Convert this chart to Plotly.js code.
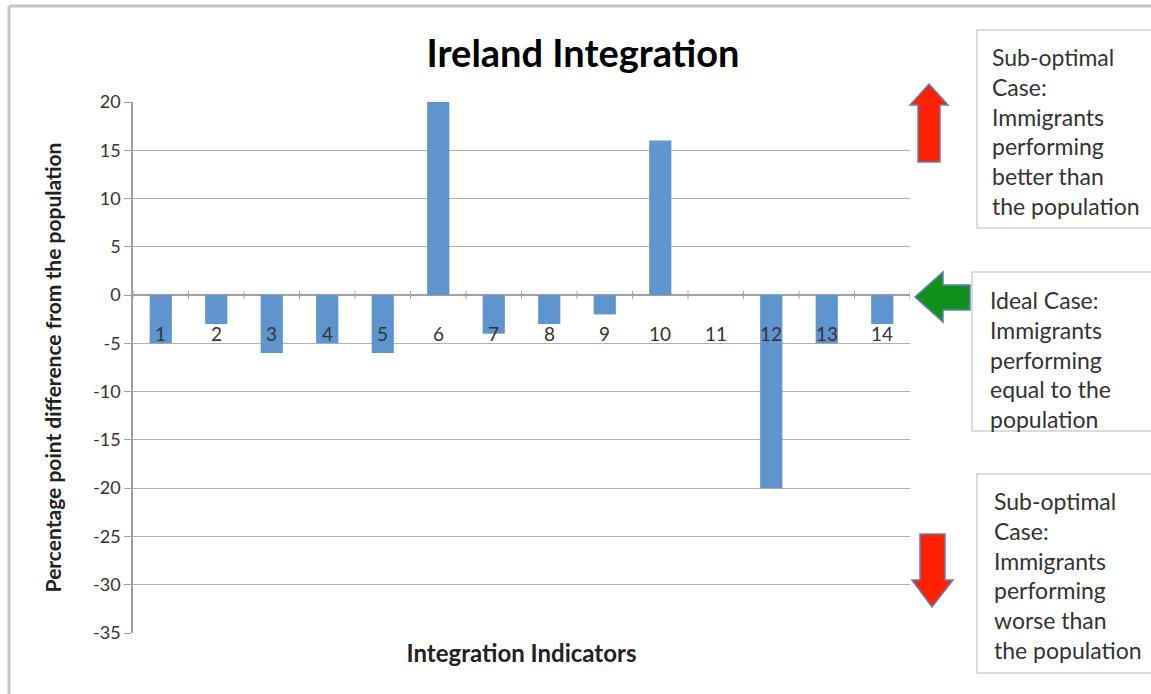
<!DOCTYPE html>
<html>
<head>
<meta charset="utf-8">
<script src="https://cdn.plot.ly/plotly-3.0.1.min.js"></script>
<style>html,body{margin:0;padding:0;background:#fff;}#chart{width:1151px;height:694px;}</style>
</head>
<body>
<div id="chart"></div>
<script>
const categories = ['1','2','3','4','5','6','7','8','9','10','11','12','13','14'];
const values = [-5, -3, -6, -5, -6, 20, -4, -3, -2, 16, 0, -20, -5, -3];
const yTicks = [20, 15, 10, 5, 0, -5, -10, -15, -20, -25, -30, -35];
const boxTexts = [
  ['Sub-optimal', 'Case:', 'Immigrants', 'performing', 'better than', 'the population'],
  ['Ideal Case:', 'Immigrants', 'performing', 'equal to the', 'population'],
  ['Sub-optimal', 'Case:', 'Immigrants', 'performing', 'worse than', 'the population']
];

const W = 1151, H = 694;
const M = {l: 133, r: 241, t: 102, b: 61};
const PW = W - M.l - M.r, PH = H - M.t - M.b;
const px = x => (x - M.l) / PW;
const py = y => (H - M.b - y) / PH;
const FONT = 'Lato, "Open Sans", sans-serif';

const shapes = [];
const annotations = [];

// category tick marks on the zero line
for (let i = 0; i <= categories.length; i++) {
  shapes.push({type: 'line', xref: 'x', yref: 'y', ysizemode: 'pixel', yanchor: 0,
    x0: i - 0.5, x1: i - 0.5, y0: -4, y1: 4, line: {color: '#a0a0a0', width: 1}});
}
// category labels next to the axis
categories.forEach((c, i) => {
  annotations.push({x: i, y: -3.95, xref: 'x', yref: 'y', text: c, showarrow: false,
    font: {family: FONT, size: 19, color: '#333'}, xanchor: 'center', yanchor: 'middle'});
});

// outer frame
shapes.push({type: 'line', xref: 'paper', yref: 'paper', x0: px(9), x1: px(9), y0: py(6), y1: py(700), line: {color: '#c4c4c4', width: 3}});
shapes.push({type: 'line', xref: 'paper', yref: 'paper', x0: px(9), x1: px(1160), y0: py(6), y1: py(6), line: {color: '#c4c4c4', width: 3}});

// text boxes
const boxes = [
  {x0: 977, y0: 30, x1: 1152, y1: 228, tx: 990, ty: 57},
  {x0: 972, y0: 272, x1: 1152, y1: 431, tx: 988, ty: 300},
  {x0: 977, y0: 474, x1: 1152, y1: 673, tx: 992, ty: 501}
];
const lineStep = 29.8;
boxes.forEach((b, k) => {
  shapes.push({type: 'rect', xref: 'paper', yref: 'paper', x0: px(b.x0), x1: px(b.x1), y0: py(b.y0), y1: py(b.y1),
    line: {color: '#d0d0d0', width: 1.5}, fillcolor: '#ffffff'});
  boxTexts[k].forEach((t, j) => {
    annotations.push({xref: 'paper', yref: 'paper', x: px(b.tx), y: py(b.ty + j * lineStep), text: t,
      showarrow: false, xanchor: 'left', yanchor: 'middle', align: 'left',
      font: {family: FONT, size: 23, color: '#333'}});
  });
});

// arrows
function pathFrom(pts) {
  return 'M ' + pts.map(p => px(p[0]) + ',' + py(p[1])).join(' L ') + ' Z';
}
const upArrow = [[929, 84], [948, 105], [940, 105], [940, 162], [918, 162], [918, 105], [910, 105]];
const leftArrow = [[915, 297], [943, 272], [943, 285], [970, 285], [970, 310], [943, 310], [943, 322]];
const downArrow = [[920, 534], [945, 534], [945, 580], [953, 580], [932, 607], [912, 580], [920, 580]];
shapes.push({type: 'path', xref: 'paper', yref: 'paper', path: pathFrom(upArrow), fillcolor: '#ff2000', line: {color: '#5b82b5', width: 1.5}});
shapes.push({type: 'path', xref: 'paper', yref: 'paper', path: pathFrom(leftArrow), fillcolor: '#12901c', line: {color: '#5b82b5', width: 1.5}});
shapes.push({type: 'path', xref: 'paper', yref: 'paper', path: pathFrom(downArrow), fillcolor: '#ff2000', line: {color: '#5b82b5', width: 1.5}});

const data = [{
  type: 'bar', x: categories.map((c, i) => i), y: values, width: 0.4,
  marker: {color: '#5f95cf', line: {width: 0}}, hoverinfo: 'x+y'
}];

const layout = {
  width: W, height: H,
  margin: M,
  paper_bgcolor: '#ffffff', plot_bgcolor: '#ffffff',
  showlegend: false,
  font: {family: FONT, color: '#333'},
  title: {text: '<b>Ireland Integration</b>', x: 583 / W, xanchor: 'center', xref: 'container',
    y: 1 - 54 / H, yanchor: 'middle', yref: 'container',
    font: {family: FONT, size: 38, color: '#000'}},
  xaxis: {range: [-0.5, categories.length - 0.5], showgrid: false, zeroline: false, showline: false,
    showticklabels: false, ticks: '', fixedrange: true,
    title: {text: '<b>Integration Indicators</b>', standoff: 12, font: {family: FONT, size: 24, color: '#222'}}},
  yaxis: {range: [-35, 20], tickvals: yTicks, ticktext: yTicks.map(String),
    showgrid: true, gridcolor: '#b0b0b0', gridwidth: 1,
    zeroline: true, zerolinecolor: '#a0a0a0', zerolinewidth: 1.5,
    showline: true, linecolor: '#a0a0a0', linewidth: 1.5,
    ticks: 'outside', ticklen: 7, tickcolor: '#a0a0a0',
    tickfont: {family: FONT, size: 18, color: '#333'},
    title: {text: '<b>Percentage point difference from the population</b>', standoff: 26,
      font: {family: FONT, size: 21, color: '#222'}}},
  shapes: shapes,
  annotations: annotations
};

Plotly.newPlot('chart', data, layout, {displayModeBar: false, staticPlot: false});
</script>
</body>
</html>
